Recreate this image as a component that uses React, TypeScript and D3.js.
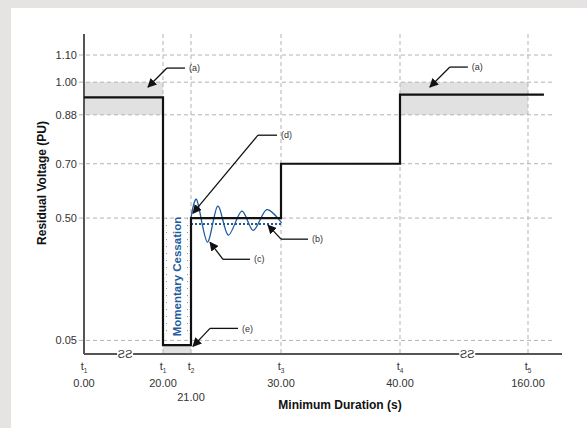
import React from 'react';
import * as d3 from 'd3';

// data
const timeTicks = [0, 20, 21, 30, 40, 160];
const timeSubs = ['1', '1', '2', '3', '4', '5'];
const timeLabels = ['0.00', '20.00', '21.00', '30.00', '40.00', '160.00'];
const voltTicks = [0.05, 0.5, 0.7, 0.88, 1.0, 1.1];

const stepTimes = [0, 20, 21, 30, 40, 175];
const stepVolts = [0.944, 0.033, 0.5, 0.7, 0.954, 0.954];

const ringTimes = [21, 21.57, 22.63, 23.67, 24.73, 26.07, 27.23, 28.57, 30.05];
const ringVolts = [0.5, 0.568, 0.412, 0.544, 0.437, 0.526, 0.455, 0.531, 0.482];

const settledVolt = 0.478;

const shadeBands = [
  { t0: 0, t1: 20, v0: 0.88, v1: 1.0 },
  { t0: 40, t1: 160, v0: 0.88, v1: 1.0 },
  { t0: 20, t1: 21, v0: 0, v1: 0.033 },
];

// annotation target (data) + elbow offset (px) + leader length (px)
const notes = [
  { label: '(a)', t: 16.2, v: 0.982, dx: 19, dy: -19, len: 18 },
  { label: '(a)', t: 68, v: 0.982, dx: 20, dy: -20, len: 18 },
  { label: '(d)', t: 21.2, v: 0.518, dx: 65, dy: -78, len: 19 },
  { label: '(c)', t: 22.9, v: 0.411, dx: 13, dy: 17, len: 27 },
  { label: '(b)', t: 28.7, v: 0.474, dx: 13, dy: 14, len: 27 },
  { label: '(e)', t: 21.2, v: 0.028, dx: 17, dy: -18, len: 28 },
];

const breakTimes = [10.4, 103];

export default function App() {
  const W = 587;
  const H = 428;

  const x = d3
    .scaleLinear()
    .domain([0, 20, 21, 30, 40, 160, 192])
    .range([84, 163, 191, 281, 400, 528, 562]);
  const y = d3.scaleLinear().domain([0, 1.1]).range([354, 55]);
  const yTop = 34;

  const stepPts: [number, number][] = stepTimes.map((t, i) => [x(t), y(stepVolts[i])]);
  const stepPath = d3.line().curve(d3.curveStepAfter)(stepPts) || '';

  const ringPath =
    d3
      .line<number>()
      .x((t) => x(t))
      .y((_, i) => y(ringVolts[i]))
      .curve(d3.curveCardinal.tension(0.1))(ringTimes) || '';

  const font = 'Arial, "Liberation Sans", Helvetica, sans-serif';
  const blue = '#1f5c9e';
  const grid = '#b3b3b3';

  return (
    <div style={{ position: 'absolute', left: 0, top: 0 }}>
      <svg width={W} height={H} style={{ display: 'block', fontFamily: font }}>
        <defs>
          <marker id="arr" viewBox="0 0 10 10" refX="9" refY="5" markerWidth="7" markerHeight="7" orient="auto-start-reverse">
            <path d="M0,0 L10,5 L0,10 z" fill="#111" />
          </marker>
        </defs>
        <rect width={W} height={H} fill="#e5e4e2" />
        <rect x={11} y={8} width={W - 11} height={H - 8} fill="#ffffff" />

        {/* shaded bands */}
        {shadeBands.map((b, i) => (
          <rect
            key={i}
            x={x(b.t0)}
            y={y(b.v1)}
            width={x(b.t1) - x(b.t0)}
            height={y(b.v0) - y(b.v1)}
            fill="#e2e1e1"
          />
        ))}

        {/* grid */}
        {voltTicks.map((v) => (
          <line key={v} x1={79} x2={553} y1={y(v)} y2={y(v)} stroke={grid} strokeWidth={1} strokeDasharray="4,3" />
        ))}
        {timeTicks.slice(1).map((t) => (
          <line key={t} x1={x(t)} x2={x(t)} y1={yTop} y2={y(0)} stroke={grid} strokeWidth={1} strokeDasharray="4,3" />
        ))}

        {/* momentary cessation dotted guides */}
        {[x(20) + 3.5, x(21) - 3.5].map((px, i) => (
          <line key={i} x1={px} x2={px} y1={y(0.5)} y2={y(0.05) - 4} stroke="#8a8a8a" strokeWidth={1} strokeDasharray="1,6" />
        ))}
        <text
          transform={`translate(${(x(20) + x(21)) / 2 + 4},${y(0.285)}) rotate(-90)`}
          textAnchor="middle"
          fontSize={11.5}
          fontWeight="bold"
          fill={blue}
        >
          Momentary Cessation
        </text>

        {/* axes */}
        <line x1={x(0)} x2={x(0)} y1={yTop} y2={y(0)} stroke="#555" strokeWidth={2} />
        <line x1={x(0)} x2={562} y1={y(0)} y2={y(0)} stroke="#555" strokeWidth={2} />

        {/* axis breaks */}
        {breakTimes.map((t, i) => (
          <g key={i} transform={`translate(${x(t)},${y(0)})`}>
            <rect x={-8} y={-4} width={16} height={8} fill="#fff" />
            <text transform="scale(-1,1)" textAnchor="middle" y={4} fontSize={11} fill="#333">
              SS
            </text>
          </g>
        ))}

        {/* settled level and ringing */}
        <line
          x1={x(21)}
          x2={x(30)}
          y1={y(settledVolt)}
          y2={y(settledVolt)}
          stroke={blue}
          strokeWidth={2}
          strokeDasharray="2,2"
        />
        <path d={ringPath} fill="none" stroke={blue} strokeWidth={1.3} />

        {/* step profile */}
        <path d={stepPath} fill="none" stroke="#111" strokeWidth={2.2} />

        {/* y tick labels */}
        {voltTicks.map((v) => (
          <text key={v} x={77} y={y(v)} dy="0.35em" textAnchor="end" fontSize={11} fill="#333">
            {v.toFixed(2)}
          </text>
        ))}

        {/* x tick labels */}
        {timeTicks.map((t, i) => (
          <g key={t}>
            <text x={x(t)} y={370} textAnchor="middle" fontSize={11} fill="#333">
              t<tspan fontSize={6.5} dy={3}>{timeSubs[i]}</tspan>
            </text>
            <text x={x(t)} y={i === 2 ? 401 : 387} textAnchor="middle" fontSize={11} fill="#333">
              {timeLabels[i]}
            </text>
          </g>
        ))}

        {/* axis titles */}
        <text x={340} y={409} textAnchor="middle" fontSize={12} fontWeight="bold" fill="#111">
          Minimum Duration (s)
        </text>
        <text transform="translate(46,183) rotate(-90)" textAnchor="middle" fontSize={12} fontWeight="bold" fill="#111">
          Residual Voltage (PU)
        </text>

        {/* annotations */}
        {notes.map((n, i) => {
          const tx = x(n.t);
          const ty = y(n.v);
          const ex = tx + n.dx;
          const ey = ty + n.dy;
          return (
            <g key={i}>
              <line x1={ex} y1={ey} x2={tx} y2={ty} stroke="#111" strokeWidth={1.3} markerEnd="url(#arr)" />
              <line x1={ex} y1={ey} x2={ex + n.len} y2={ey} stroke="#111" strokeWidth={1.3} />
              <text x={ex + n.len + 4} y={ey} dy="0.35em" fontSize={9} fill="#333">
                {n.label}
              </text>
            </g>
          );
        })}
      </svg>
    </div>
  );
}
